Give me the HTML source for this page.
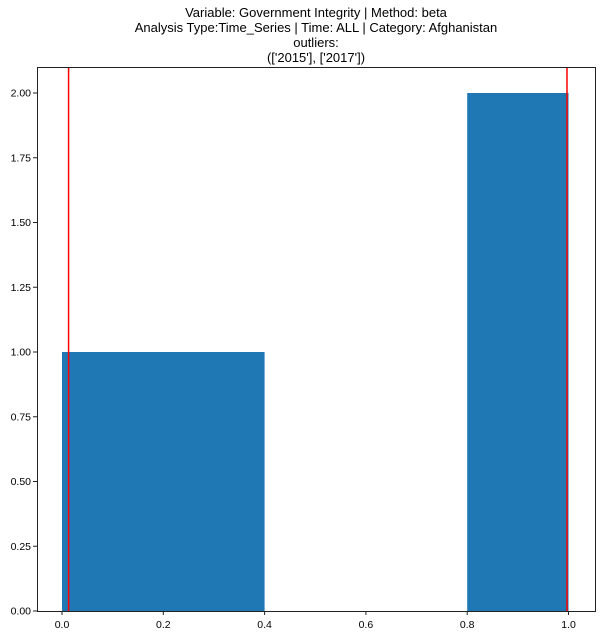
<!DOCTYPE html>
<html><head><meta charset="utf-8"><style>
body{margin:0;background:#fff;font-family:"Liberation Sans","DejaVu Sans",sans-serif;}
</style></head><body>
<svg width="601" height="635" xmlns="http://www.w3.org/2000/svg">
<g font-size="13" text-anchor="middle" fill="#000">
<text x="316" y="17">Variable: Government Integrity | Method: beta</text>
<text x="316" y="32">Analysis Type:Time_Series | Time: ALL | Category: Afghanistan</text>
<text x="316" y="47">outliers:</text>
<text x="316" y="62">(['2015'], ['2017'])</text>
</g>
<g id="bars"></g><g id="lines"></g><g id="ticks" font-size="10.5"></g>
<rect x="37.5" y="67.5" width="558" height="544" fill="none" stroke="#222" stroke-width="1"/>
</svg>
<script>
const binStarts=[0,0.4,0.8];
const binEnds=[0.4,0.8,1.0];
const counts=[1,0,2];
const outliers=[0.013,0.997];
const xTicks=[0,0.2,0.4,0.6,0.8,1.0];
const yTicks=[0,0.25,0.5,0.75,1.0,1.25,1.5,1.75,2.0];
const NS="http://www.w3.org/2000/svg";
const X=v=>62+v*506.5, Y=v=>611-v*259;
function mk(t,a,p){const e=document.createElementNS(NS,t);for(const k in a)e.setAttribute(k,a[k]);p.appendChild(e);return e;}
const gb=document.getElementById('bars'),gl=document.getElementById('lines'),gt=document.getElementById('ticks');
counts.forEach((c,i)=>{if(!c)return;const r=mk('rect',{x:X(binStarts[i]),y:Y(c),width:X(binEnds[i])-X(binStarts[i]),height:Y(0)-Y(c),fill:'#1f77b4'},gb);

});
outliers.forEach(o=>{const l=mk('line',{x1:X(o),x2:X(o),y1:67,y2:611,stroke:'#f00',"stroke-width":1.5},gl);

});
xTicks.forEach(v=>{mk('line',{x1:X(v),x2:X(v),y1:611,y2:615,stroke:'#222'},gt);
const t=mk('text',{x:X(v),y:628,"text-anchor":"middle"},gt);t.textContent=v.toFixed(1);

});
yTicks.forEach(v=>{mk('line',{x1:33,x2:37,y1:Y(v),y2:Y(v),stroke:'#222'},gt);
const t=mk('text',{x:31,y:Y(v)+3.5,"text-anchor":"end"},gt);t.textContent=v.toFixed(2);

});
</script>
</body></html>
